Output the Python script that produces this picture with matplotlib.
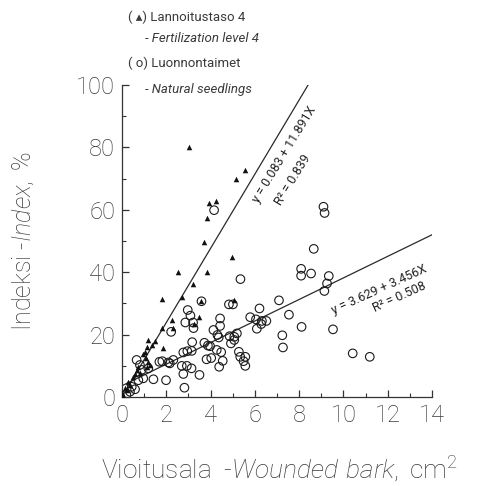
import matplotlib
matplotlib.use('Agg')
import matplotlib.pyplot as plt
from matplotlib.ticker import MultipleLocator

# fertilization level 4 (triangles)
fert_x = [3.03, 5.57, 5.14, 3.94, 4.24, 3.83, 3.71, 4.99, 2.55, 3.83, 3.20, 5.08,
          2.70, 1.80, 3.59, 3.47, 3.27, 2.28, 2.32, 1.82, 1.87, 1.19, 1.49, 1.34,
          1.14, 1.04, 0.94, 1.09, 1.19, 1.27, 1.12, 0.74, 0.66, 0.81, 0.59, 0.51,
          0.29, 0.36, 0.14, 0.21, 0.00, 0.06]
fert_y = [80.2, 72.8, 69.9, 62.1, 62.9, 57.3, 49.8, 44.8, 40.0, 40.0, 36.2, 31.1,
          32.2, 31.3, 30.7, 25.7, 23.3, 24.6, 22.0, 22.2, 15.6, 18.3, 18.0, 16.7,
          16.1, 14.5, 13.8, 12.4, 11.3, 10.3, 9.7, 9.7, 8.7, 7.8, 7.4, 6.3,
          4.9, 3.8, 2.8, 2.2, 1.2, 0.6]

# natural seedlings (open circles)
nat_x = [4.16, 5.35, 4.83, 5.01, 3.59, 2.97, 3.09, 2.86, 3.21, 3.23, 4.43, 4.43,
         2.22, 4.13, 4.31, 4.37, 4.86, 5.07, 5.19, 4.92, 5.07, 3.17, 3.72, 3.88,
         3.98, 2.77, 2.95, 3.15, 4.28, 4.48, 3.82, 4.03, 4.55, 4.39, 2.32, 2.16,
         2.70, 2.93, 3.14, 1.82, 5.28, 5.34, 5.57, 5.49, 5.57, 2.77, 3.50, 1.99,
         2.82, 8.66, 8.09, 8.09, 8.54, 7.09, 6.21, 5.79, 6.05, 6.32, 6.52, 6.29,
         6.09, 7.54, 8.11, 7.24, 7.27, 9.34, 9.26, 9.14, 9.53, 10.42, 11.19, 9.10,
         9.15, 0.66, 0.81, 1.69, 2.10, 1.42, 1.19, 0.89, 0.74, 0.96, 0.44, 0.59,
         0.36, 0.20]
nat_y = [59.9, 37.8, 29.7, 29.7, 30.7, 27.9, 26.1, 23.9, 23.9, 22.1, 25.2, 22.8,
         20.9, 21.5, 19.9, 19.1, 19.5, 19.3, 20.4, 17.2, 18.3, 17.6, 17.4, 16.5,
         16.3, 14.3, 14.7, 14.8, 15.1, 14.4, 12.1, 12.5, 11.6, 9.7, 11.9, 10.8,
         10.0, 10.0, 9.2, 11.5, 14.5, 12.9, 12.9, 11.5, 10.0, 7.4, 7.1, 5.4,
         3.0, 47.5, 41.1, 38.9, 39.6, 31.0, 28.4, 25.6, 24.9, 24.4, 24.4, 23.4,
         21.9, 26.4, 22.5, 19.8, 15.9, 38.8, 36.4, 34.0, 21.7, 14.0, 12.9, 61.0,
         59.0, 11.9, 10.3, 11.3, 11.1, 5.7, 9.2, 8.7, 5.4, 6.0, 3.3, 2.5,
         1.7, 0.8]

# regressions: (intercept, slope, x-range)
fert_fit = (0.083, 11.891, [0, 8.4])
nat_fit = (3.629, 3.456, [0, 14])

TEXT = '#3a3a3a'
plt.rcParams['font.family'] = ['Roboto', 'DejaVu Sans']
plt.rcParams['font.weight'] = 'light'
plt.rcParams['mathtext.fontset'] = 'custom'
plt.rcParams['mathtext.rm'] = 'Roboto:light'
plt.rcParams['mathtext.it'] = 'Roboto:italic:light'

fig = plt.figure(figsize=(4.81, 4.86), dpi=100, facecolor='white')
ax = fig.add_axes([0.2536, 0.183, 0.6445, 0.642])

for b, m, xr in (fert_fit, nat_fit):
    ax.plot(xr, [b + m * v for v in xr], color='#2a2a2a', lw=0.9, zorder=2)

ax.scatter(nat_x, nat_y, s=38, facecolors='none', edgecolors='#1a1a1a',
           linewidths=0.8, zorder=3)
ax.scatter(fert_x, fert_y, s=16, marker='^', color='#111111', linewidths=0,
           zorder=4)

ax.set_xlim(0, 14)
ax.set_ylim(0, 100)
for s in ('top', 'right'):
    ax.spines[s].set_visible(False)
for s in ('left', 'bottom'):
    ax.spines[s].set_color('#333333')
    ax.spines[s].set_linewidth(0.9)
ax.xaxis.set_major_locator(MultipleLocator(2))
ax.xaxis.set_minor_locator(MultipleLocator(1))
ax.yaxis.set_major_locator(MultipleLocator(20))
ax.yaxis.set_minor_locator(MultipleLocator(10))
ax.tick_params(which='major', direction='in', length=5, width=0.9,
               colors='#333333', labelsize=17, labelcolor=TEXT, pad=5)
ax.tick_params(which='minor', direction='in', length=3, width=0.8,
               colors='#333333')
ax.set_xticks(range(0, 15, 2))
ax.set_yticks(range(0, 101, 20))

# regression annotations
eq_kw = dict(rotation_mode='anchor', ha='center', va='center',
             fontsize=9, color='#222222', fontweight='normal')
ax.text(7.33, 77.9, 'y = 0.083 + 11.891X', rotation=58.5, **eq_kw)
ax.text(7.72, 69.6, 'R\u00b2 = 0.839', rotation=58.5, **eq_kw)
ax.text(11.63, 34.3, 'y = 3.629 + 3.456X', rotation=24.5, **eq_kw)
ax.text(12.55, 32.0, 'R\u00b2 = 0.508', rotation=24.5, **eq_kw)

# legend block
leg_kw = dict(fontsize=9.5, color=TEXT, va='center', ha='left',
              fontweight='normal')
fig.text(128 / 481, 1 - 17 / 486, '( \u25b4) Lannoitustaso 4', **leg_kw)
fig.text(145 / 481, 1 - 38 / 486, '- Fertilization level 4', style='italic',
         **leg_kw)
fig.text(128 / 481, 1 - 63 / 486, '( o) Luonnontaimet', **leg_kw)
fig.text(145 / 481, 1 - 90 / 486, '- Natural seedlings', style='italic',
         **leg_kw)

# axis titles
fig.text(279 / 481, 1 - 468 / 486,
         r'Vioitusala  -$\mathit{Wounded\ bark,}$ cm$^2$',
         fontsize=19, color=TEXT, ha='center', va='center')
fig.text(23 / 481, 1 - 241 / 486, r'Indeksi -$\mathit{Index,}$ %',
         fontsize=18, color=TEXT, ha='center', va='center', rotation=90)

fig.savefig('out.png', dpi=100, facecolor='white')
